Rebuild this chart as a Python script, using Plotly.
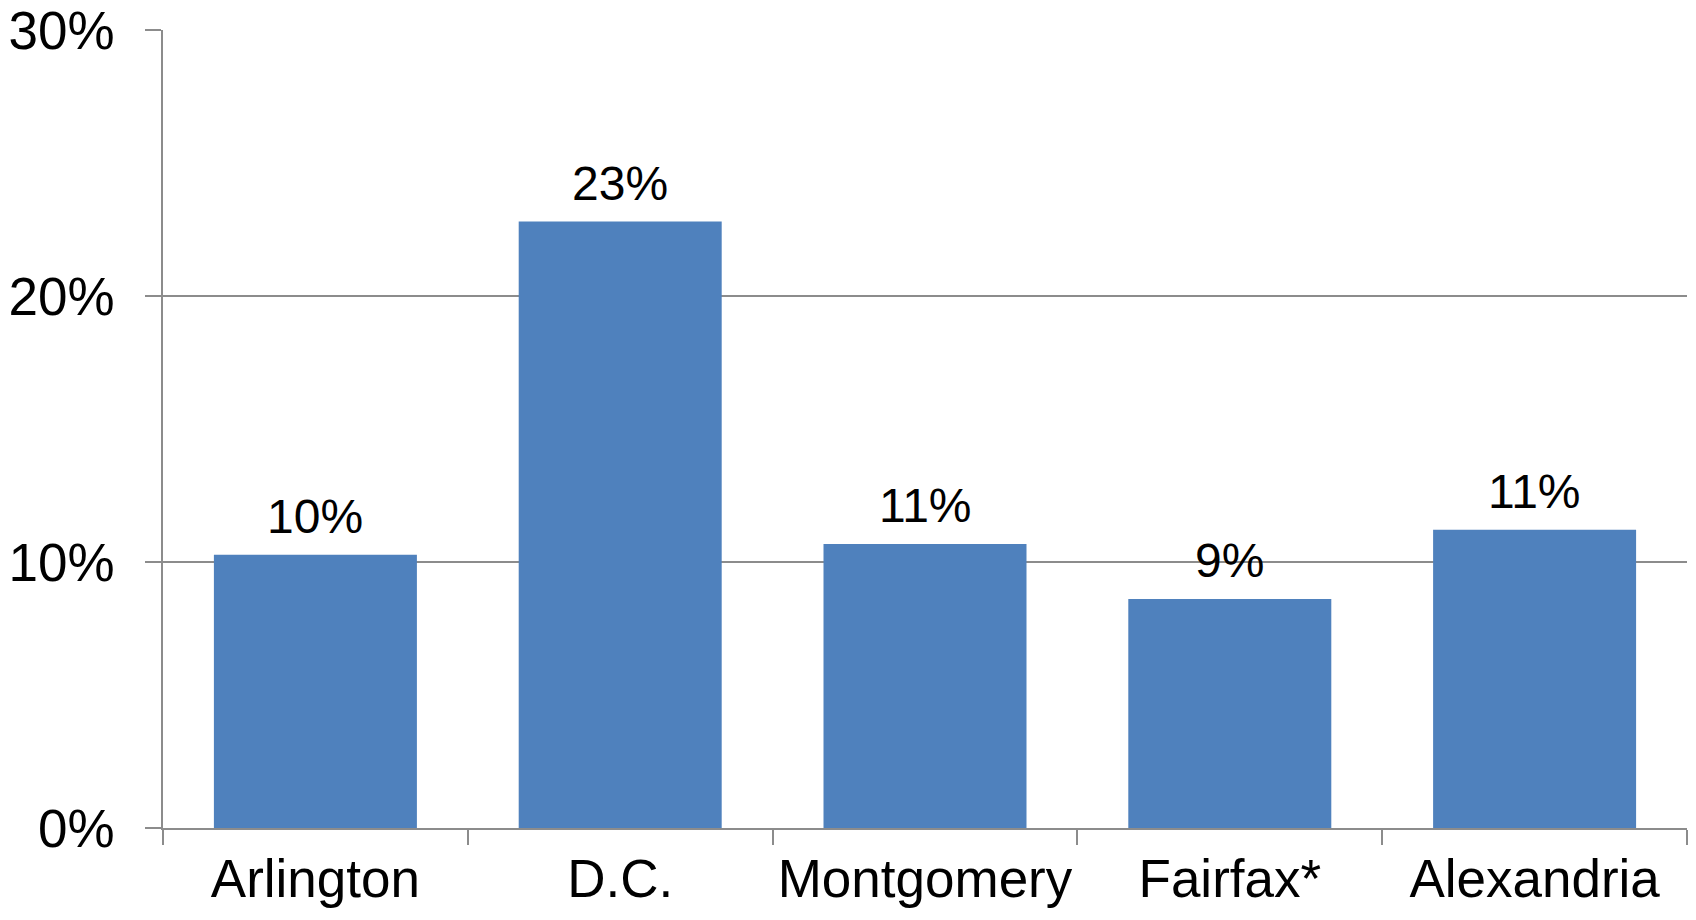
import plotly.graph_objects as go

categories = ["Arlington", "D.C.", "Montgomery", "Fairfax*", "Alexandria"]
values = [10.27, 22.80, 10.68, 8.61, 11.21]
labels = ["10%", "23%", "11%", "9%", "11%"]
y_ticks = [0, 10, 20, 30]
y_tick_labels = ["0%", "10%", "20%", "30%"]

FONT = "Liberation Sans, Arial, sans-serif"
GRID = "#8c8c8c"

fig = go.Figure()
fig.add_trace(go.Bar(
    x=categories, y=values,
    marker=dict(color="#4F81BD", line=dict(width=0)),
    width=0.666,
    hoverinfo="skip",
))

for c, v, t in zip(categories, values, labels):
    fig.add_annotation(x=c, y=v, text=t, showarrow=False, yanchor="bottom",
                       yshift=10, font=dict(family=FONT, size=48, color="#000000"))

fig.update_layout(
    width=1680, height=904,
    margin=dict(l=155, r=1, t=22, b=84, autoexpand=False),
    paper_bgcolor="white", plot_bgcolor="white",
    showlegend=False,
    font=dict(family=FONT, color="#000000"),
)
fig.update_xaxes(
    automargin=False,
    showline=True, linecolor=GRID, linewidth=1.5,
    ticks="outside", tickson="boundaries", ticklen=15, tickcolor=GRID, tickwidth=1.5,
    tickfont=dict(family=FONT, size=53, color="#000000"),
    ticklabelstandoff=4,
    ticklabeloverflow="allow",
    showgrid=False,
)
fig.update_yaxes(
    automargin=False,
    range=[0, 30], tickvals=y_ticks, ticktext=y_tick_labels,
    showline=True, linecolor=GRID, linewidth=1.5,
    ticks="outside", ticklen=16, tickcolor=GRID, tickwidth=1.5,
    showgrid=True, gridcolor=GRID, gridwidth=1.5, zeroline=False,
    tickfont=dict(family=FONT, size=53, color="#000000"),
    ticklabelstandoff=20,
    ticklabeloverflow="allow",
)

fig.write_html("out.html")
